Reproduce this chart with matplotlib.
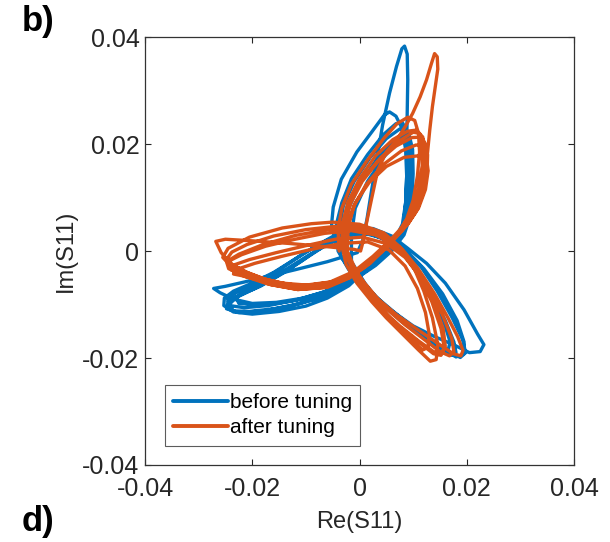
import matplotlib
matplotlib.use("Agg")
import matplotlib.pyplot as plt
import numpy as np

# Values in units of 1e-3
before_re = [
    # pass 1
    -4.5, -5.2, -4.9, -3.4, -0.5, 2.4, 4.6, 5.6, 6.8, 7.9, 8.6, 8.8, 8.6, 8.0, 6.5, 4.0, 1.5, -2.0, -6.0, -10.0,
    -15.0, -20.0, -23.5, -25.3, -25.2, -23.5, -20.0, -16.0, -12.0, -8.0, -4.5, -1.0, 2.5, 6.0, 9.0, 12.5, 16.0,
    19.5, 22.0, 23.2, 22.5, 20.5, 17.5, 14.0, 10.0, 5.5, 1.3, -2.0,
    # pass 2
    -4.0, -4.3, -3.3, -1.5, 1.5, 4.5, 6.8, 8.0, 8.8, 9.2, 9.3, 9.0, 8.4, 7.0, 4.5, 1.5, -2.5, -7.0, -12.0, -17.0,
    -21.5, -24.2, -24.6, -23.0, -19.5, -15.0, -10.5, -6.5, -2.5, 1.0, 4.5, 8.0, 11.5, 14.5, 17.3, 19.2, 19.8,
    18.8, 17.0, 14.0, 10.0, 6.0, 2.0, -1.0,
    # pass 3
    -3.5, -3.8, -3.0, -1.0, 2.0, 5.0, 7.5, 8.6, 9.4, 9.6, 9.5, 9.1, 8.0, 5.5, 2.5, -1.5, -6.0, -11.0, -16.0,
    -20.5, -23.5, -24.3, -23.0, -19.5, -15.5, -11.0, -7.0, -3.0, 0.5, 4.0, 7.5, 10.5, 13.5, 16.0, 17.6, 18.0,
    17.0, 15.0, 11.5, 7.5, 3.0, 0.0,
    # pass 4
    -2.5, -2.8, -2.0, 0.0, 3.0, 6.0, 8.3, 9.3, 9.9, 10.0, 9.8, 9.3, 8.3, 6.0, 3.0, -1.0, -5.5, -10.5, -15.5,
    -20.0, -22.5, -23.0, -21.0, -17.5, -13.5, -9.5, -5.5, -1.5, 2.0, 5.5, 8.5, 11.3, 13.8, 15.8, 16.9, 16.5,
    15.0, 12.0, 8.0, 4.0, 1.0,
    # pass 5 (spikes)
    -1.5, -1.5, -0.8, 1.5, 4.5, 7.0, 8.7, 9.6, 9.8, 9.6, 9.1, 8.0, 5.8, 2.8, -1.0, -5.5, -10.5, -15.5, -20.0,
    -23.5, -26.0, -27.2, -25.0, -21.5, -16.5, -12.0, -6.0, -0.4, 0.6, 1.4, 2.2, 3.2, 4.3, 5.6, 6.9, 7.9, 8.4,
    8.9, 9.0, 8.9, 8.8, 8.8, 8.6, 8.2, 7.0, 4.5,
    # pass 6
    1.5, -2.5, -7.5, -13.0, -18.0, -22.5, -24.8, -24.5, -22.5, -18.5, -14.0, -9.5, -5.5, -1.8, 1.8, 5.2, 8.5,
    12.0, 15.5, 18.2, 19.5, 19.4, 18.0, 15.5, 12.0, 8.0, 4.0, 0.5, -2.0, -3.0,
]
before_im = [
    1.5, 5.0, 8.2, 13.4, 18.5, 22.4, 25.4, 26.0, 25.2, 23.0, 19.0, 14.0, 9.0, 5.0, 2.0, -0.5, -3.2, -6.5, -8.8, -10.3,
    -11.3, -11.8, -11.4, -10.2, -8.8, -7.5, -6.0, -4.0, -1.5, 1.0, 3.0, 4.2, 4.2, 2.8, 0.5, -2.3, -6.0,
    -11.0, -15.5, -17.5, -18.8, -19.0, -17.5, -16.0, -14.0, -10.8, -7.0, -3.5,
    0.0, 5.0, 9.0, 13.5, 18.0, 21.8, 23.8, 24.0, 22.5, 19.0, 14.0, 9.0, 5.0, 2.0, -0.5, -3.0, -5.8, -7.8, -9.2, -10.2,
    -10.6, -10.2, -9.0, -7.8, -6.3, -3.5, -0.5, 1.8, 3.3, 3.6, 2.6, 0.3, -3.0, -7.5, -12.5, -16.5, -19.0,
    -19.9, -19.0, -17.0, -14.5, -11.5, -8.0, -4.5,
    -1.0, 4.0, 8.5, 13.0, 17.5, 21.0, 22.8, 22.7, 20.5, 16.0, 11.0, 6.5, 3.0, 0.0, -2.8, -5.8, -8.2, -9.8, -10.8,
    -11.3, -11.2, -10.0, -8.7, -7.0, -4.8, -2.0, 0.8, 2.8, 3.4, 2.5, 0.2, -3.5, -8.0, -13.0, -17.0, -19.0,
    -19.5, -18.3, -15.5, -12.3, -8.5, -5.0,
    -1.5, 3.0, 8.0, 12.5, 16.8, 20.3, 22.0, 21.5, 19.0, 14.5, 10.0, 6.0, 3.0, 0.0, -2.7, -5.4, -7.5, -9.0, -9.8,
    -10.0, -9.8, -8.7, -7.3, -5.6, -3.3, -0.8, 1.5, 3.0, 3.2, 1.8, -0.8, -4.5, -9.0, -13.5, -17.0, -18.6,
    -18.2, -16.3, -13.3, -9.8, -6.0,
    -2.0, 3.0, 8.0, 13.0, 17.5, 20.5, 21.3, 19.5, 15.0, 10.0, 6.0, 3.0, 0.2, -2.5, -5.0, -7.3, -8.8, -9.6, -9.8,
    -9.0, -7.8, -7.0, -6.6, -5.8, -4.6, -3.5, -2.0, -0.3, 2.0, 6.0, 11.0, 17.0, 23.5, 29.5, 34.5, 37.8, 38.3,
    36.8, 32.0, 26.0, 20.0, 14.0, 9.0, 5.0, 2.0, -1.0,
    -3.5, -6.5, -8.8, -10.3, -11.2, -11.5, -10.8, -9.5, -8.3, -6.6, -4.0, -1.0, 1.6, 3.4, 3.8, 2.7, 0.3,
    -3.3, -8.0, -13.0, -17.0, -19.3, -19.8, -18.3, -16.0, -13.0, -9.5, -5.8, -2.0, 3.0,
]

after_re = [
    # pass 1
    -3.8, -4.0, -3.3, -1.5, 1.5, 4.5, 7.0, 9.0, 10.3, 11.0, 11.2, 10.8, 10.0, 8.8, 7.0, 4.5, 1.5, -2.0, -6.5,
    -11.5, -16.5, -21.0, -24.0, -25.5, -24.5, -20.5, -14.4, -9.0, -5.0, 0.0, 4.5, 7.5, 10.0, 12.0, 13.6, 14.6,
    14.3, 13.2, 11.0, 8.0, 5.0, 2.3, -0.5, -2.5,
    # pass 2
    -3.3, -3.2, -2.2, 0.0, 3.0, 6.2, 9.0, 10.6, 11.8, 12.2, 12.0, 11.0, 9.3, 7.2, 4.6, 1.5, -2.2, -6.5, -12.0,
    -17.0, -21.0, -23.8, -24.6, -23.8, -21.0, -16.0, -10.0, -4.5, 0.5, 4.8, 8.0, 11.0, 14.0, 16.5, 18.3, 19.3,
    18.9, 17.5, 14.5, 11.0, 7.0, 3.5, 0.5, -1.8,
    # pass 3
    -2.8, -2.6, -1.6, 0.5, 3.5, 6.8, 9.8, 11.6, 12.4, 12.5, 12.0, 10.9, 9.0, 6.7, 4.0, 1.0, -2.7, -7.0, -12.5,
    -17.5, -21.5, -24.0, -24.2, -22.0, -17.5, -12.0, -6.5, -1.5, 3.0, 6.7, 10.0, 13.0, 15.5, 17.2, 17.6, 16.8,
    15.0, 12.0, 8.5, 5.0, 2.0, -0.5,
    # pass 4
    -2.3, -2.1, -1.0, 1.3, 4.5, 7.8, 10.5, 12.1, 12.7, 12.6, 11.8, 10.3, 8.2, 5.7, 2.8, -0.5, -4.5, -9.5, -14.5,
    -19.0, -22.5, -23.8, -23.4, -20.5, -15.5, -10.0, -4.5, 0.5, 5.0, 8.5, 11.5, 14.0, 15.6, 16.0, 15.3, 13.8,
    11.0, 7.5, 4.0, 1.0, -1.2,
    # pass 5
    -2.5, -2.2, -0.8, 1.8, 5.0, 8.3, 11.0, 12.5, 12.8, 12.3, 11.0, 9.2, 7.0, 4.2, 1.0, -3.0, -8.0, -13.5, -18.5,
    -22.0, -23.5, -22.8, -19.5, -14.5, -9.0, -3.5, 1.5, 5.5, 8.5, 10.8, 12.3, 13.0, 12.8, 11.8, 9.5, 6.5, 3.5,
    0.8, -1.3,
    # pass 6 (spikes)
    -2.8, -2.8, -1.8, 0.8, 4.0, 7.3, 10.0, 11.2, 11.7, 11.7, 11.0, 9.8, 8.0, 5.5, 2.5, -1.0, -5.5, -11.0, -16.0,
    -20.5, -24.0, -25.8, -26.8, -25.0, -20.0, -13.0, -6.0, -1.0, 0.2, 0.6, 1.3, 2.2, 3.4, 5.0, 6.9, 8.5, 9.9,
    11.3, 12.5, 13.4, 14.0, 14.5, 14.6, 14.1, 13.6, 13.1, 12.7, 12.1, 11.0, 9.5, 7.5, 5.0, 2.0,
    # pass 7
    -1.8, -6.0, -11.5, -17.0, -21.5, -24.4, -24.8, -22.5, -18.0, -12.0, -6.0, -0.5, 4.5, 8.0, 11.0, 13.5, 15.2,
    15.8, 15.2, 13.8, 11.0, 7.5, 4.0, 1.0, -1.3, -3.0,
]
after_im = [
    0.0, 4.0, 8.0, 12.5, 17.0, 21.0, 23.8, 25.0, 24.4, 22.0, 18.5, 14.0, 9.5, 6.0, 3.0, 0.3, -2.5, -5.0, -6.8,
    -7.2, -6.3, -4.6, -2.8, -1.2, 0.5, 2.6, 4.3, 5.1, 5.4, 5.0, 3.4, 0.8, -2.8, -7.5, -12.5, -17.5,
    -20.3, -20.6, -18.5, -15.5, -12.5, -9.5, -6.0, -2.5,
    1.0, 5.0, 9.0, 13.5, 17.8, 20.8, 22.4, 22.6, 21.3, 18.5, 14.0, 9.5, 6.0, 3.2, 0.5, -2.4, -4.9, -6.4, -6.6,
    -5.6, -4.0, -2.5, -1.3, -0.2, 1.2, 2.8, 4.0, 4.6, 4.4, 2.7, 0.3, -3.4, -8.0, -12.5, -16.0, -18.6,
    -19.6, -19.2, -17.2, -14.8, -12.0, -9.0, -5.5, -2.0,
    1.5, 5.5, 9.0, 13.0, 16.8, 19.6, 21.2, 21.3, 19.8, 16.5, 12.0, 8.0, 5.0, 2.5, -0.3, -3.0, -5.3, -6.5, -6.4,
    -5.3, -3.8, -2.9, -1.8, -0.7, 0.9, 2.2, 3.3, 3.8, 3.0, 1.0, -2.5, -7.0, -12.0, -16.3, -18.8, -19.6,
    -18.8, -16.5, -13.8, -10.8, -7.5, -4.0,
    0.0, 4.5, 8.5, 12.5, 16.2, 18.7, 19.8, 19.8, 18.0, 14.5, 10.5, 7.0, 4.2, 1.6, -1.2, -3.8, -5.7, -6.4, -6.0,
    -4.9, -4.0, -3.6, -2.6, -1.6, -0.3, 1.0, 2.2, 2.6, 1.4, -1.2, -5.0, -10.0, -14.5, -17.8, -19.2, -18.8,
    -16.8, -14.0, -10.8, -7.0, -3.5,
    0.5, 5.0, 9.0, 12.8, 15.8, 17.5, 17.8, 17.3, 15.0, 11.5, 8.0, 5.3, 2.8, 0.0, -2.8, -5.2, -6.5, -6.4, -5.5,
    -4.6, -4.3, -3.4, -2.3, -1.0, 0.3, 1.4, 1.7, 0.2, -2.8, -7.0, -11.5, -15.5, -18.0, -18.5, -16.5, -13.5, -10.0,
    -6.3, -3.0,
    1.0, 5.5, 9.5, 13.8, 17.5, 20.5, 22.2, 22.0, 20.0, 16.0, 11.5, 7.5, 4.5, 1.8, -1.0, -3.8, -5.8, -6.5, -5.8,
    -4.3, -2.4, -0.3, 1.8, 2.2, 1.9, 1.4, 0.8, 0.3, 0.0, 1.5, 5.2, 9.5, 15.1, 18.5, 20.7, 23.2, 25.7,
    28.8, 32.0, 35.0, 36.9, 36.3, 34.0, 30.5, 27.0, 22.6, 18.5, 14.0, 9.5, 6.0, 3.3, 0.7, -2.3,
    -5.0, -6.8, -7.2, -6.2, -4.7, -3.3, -2.0, -0.6, 1.2, 2.9, 4.0, 4.2, 2.6, -0.3, -4.5, -9.5, -14.5,
    -18.0, -19.5, -19.2, -17.0, -14.2, -11.0, -7.3, -3.5, 0.5,
]

series_labels = ["before tuning", "after tuning"]
series_colors = ["#0072BD", "#D95319"]
x_ticks = [-0.04, -0.02, 0, 0.02, 0.04]
y_ticks = [-0.04, -0.02, 0, 0.02, 0.04]
tick_labels = ["-0.04", "-0.02", "0", "0.02", "0.04"]

plt.rcParams["font.family"] = ["Liberation Sans", "DejaVu Sans"]
plt.rcParams["axes.unicode_minus"] = False

fig = plt.figure(figsize=(6.1, 5.42), dpi=100)
ax = fig.add_axes([145 / 610, 1 - 465 / 542, 429 / 610, 428 / 542])

ax.plot(np.array(before_re) * 1e-3, np.array(before_im) * 1e-3, color=series_colors[0], lw=2.4,
        solid_joinstyle="round", solid_capstyle="round", label=series_labels[0])
ax.plot(np.array(after_re) * 1e-3, np.array(after_im) * 1e-3, color=series_colors[1], lw=2.4,
        solid_joinstyle="round", solid_capstyle="round", label=series_labels[1])

ax.set_xlim(-0.04, 0.04)
ax.set_ylim(-0.04, 0.04)
ax.set_xticks(x_ticks)
ax.set_xticklabels(tick_labels)
ax.set_yticks(y_ticks)
ax.set_yticklabels(tick_labels)
ax.tick_params(direction="in", length=4, width=0.8, top=True, right=True,
               labelsize=18, colors="#262626")
ax.tick_params(axis="x", pad=9)
ax.tick_params(axis="y", pad=4)
for sp in ax.spines.values():
    sp.set_color("#333333")
    sp.set_linewidth(0.9)

ax.set_xlabel("Re(S11)", fontsize=17, color="#262626", labelpad=7)
ax.set_ylabel("Im(S11)", fontsize=17, color="#262626", labelpad=4)

leg = ax.legend(loc="lower left", bbox_to_anchor=(0.047, 0.045), fontsize=15, frameon=True,
                fancybox=False, handlelength=2.6, handletextpad=0.1, borderpad=0.4,
                labelspacing=0.3, borderaxespad=0, handleheight=0.6)
leg.get_frame().set_edgecolor("#333333")
leg.get_frame().set_linewidth(0.8)
for line in leg.get_lines():
    line.set_linewidth(2.8)

fig.text(22 / 610, 1 - 21 / 542, "b)", fontsize=25, fontweight="bold", va="center", ha="left")
fig.text(22 / 610, 1 - 521 / 542, "d)", fontsize=25, fontweight="bold", va="center", ha="left")

fig.savefig("out.png", dpi=100)
